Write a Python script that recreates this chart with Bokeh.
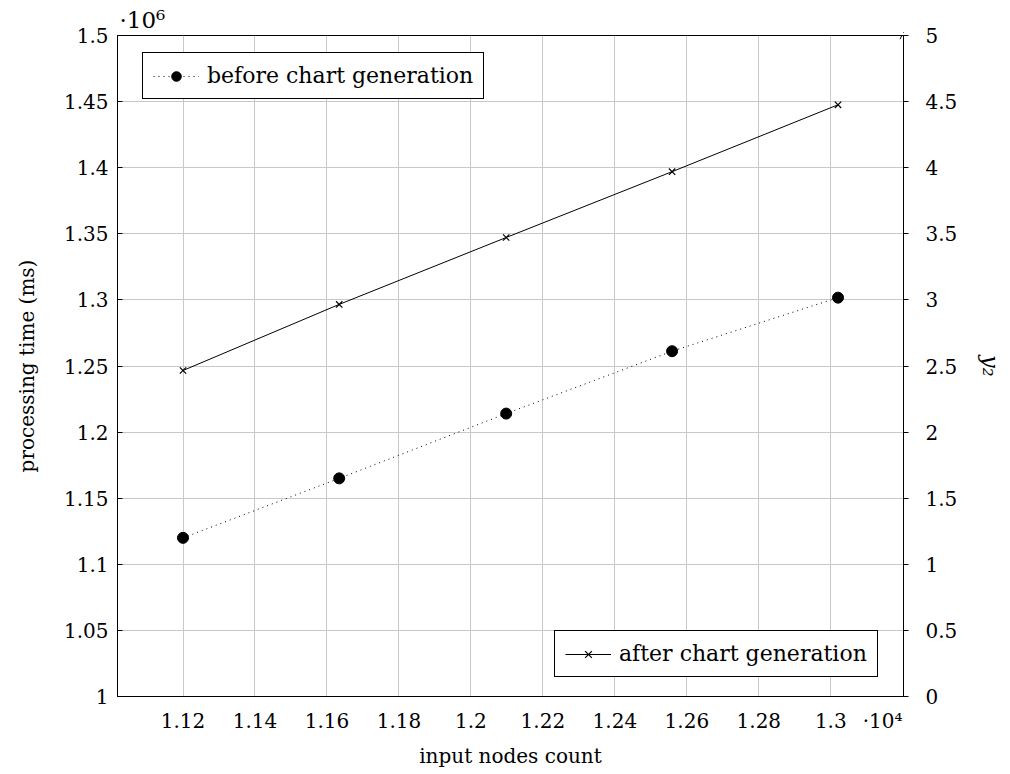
import math
from bokeh.plotting import figure
from bokeh.models import (Range1d, LinearAxis, FixedTicker, Legend, LegendItem,
                          Title, Arrow, OpenHead)
from bokeh.embed import file_html
from bokeh.resources import INLINE

# ---- data (x in units of 1e4, y in units of 1e6) ----
x_vals = [1.1200, 1.1634, 1.2098, 1.2559, 1.3020]
before_vals = [1.1200, 1.1650, 1.2140, 1.2612, 1.3017]
after_vals = [2.466, 2.966, 3.472, 3.970, 4.476]

x_ticks = [1.12, 1.14, 1.16, 1.18, 1.2, 1.22, 1.24, 1.26, 1.28, 1.3]
x_labels = ["1.12", "1.14", "1.16", "1.18", "1.2", "1.22", "1.24", "1.26", "1.28", "1.3"]
left_ticks = [1.0, 1.05, 1.1, 1.15, 1.2, 1.25, 1.3, 1.35, 1.4, 1.45, 1.5]
left_labels = ["1", "1.05", "1.1", "1.15", "1.2", "1.25", "1.3", "1.35", "1.4", "1.45", "1.5"]
right_ticks = [0, 0.5, 1, 1.5, 2, 2.5, 3, 3.5, 4, 4.5, 5]
right_labels = ["0", "0.5", "1", "1.5", "2", "2.5", "3", "3.5", "4", "4.5", "5"]
x_scale_text = "·10⁴"
y_scale_text = "·10⁶"

FONT = "DejaVu Serif"
TICK_SIZE = "20px"
LABEL_SIZE = "20px"

x0, x1 = 1.1018, 1.3202
FW, FH = 786, 661
X_SCALE_POS = 1.3144  # where the x scale note sits (right of the last tick)

p = figure(frame_width=FW, frame_height=FH, output_backend="svg", toolbar_location=None,
           x_range=Range1d(x0, x1), y_range=Range1d(1.0, 1.5),
           min_border_left=117, min_border_right=95, min_border_top=35,
           min_border_bottom=10)
p.extra_y_ranges = {"right": Range1d(0, 5)}

p.outline_line_color = "black"
p.outline_line_width = 1
p.outline_line_alpha = 1
p.background_fill_color = "white"
p.border_fill_color = "white"

# axes
xa = p.xaxis[0]
xa.ticker = FixedTicker(ticks=x_ticks + [X_SCALE_POS])
overrides = {t: l for t, l in zip(x_ticks, x_labels)}
overrides[X_SCALE_POS] = x_scale_text
xa.major_label_overrides = overrides
xa.axis_label = "input nodes count"

ya = p.yaxis[0]
ya.ticker = FixedTicker(ticks=left_ticks)
ya.major_label_overrides = {t: l for t, l in zip(left_ticks, left_labels)}
ya.axis_label = "processing time (ms)"

ra = LinearAxis(y_range_name="right", ticker=FixedTicker(ticks=right_ticks),
                axis_label="y₂")
ra.major_label_overrides = {t: l for t, l in zip(right_ticks, right_labels)}
p.add_layout(ra, "right")

for ax in (xa, ya, ra):
    ax.axis_line_color = "black"
    ax.major_tick_line_color = "black"
    ax.minor_tick_line_color = None
    ax.major_label_text_font = FONT
    ax.major_label_text_font_size = TICK_SIZE
    ax.major_label_text_color = "black"
    ax.axis_label_text_font = FONT
    ax.axis_label_text_font_size = LABEL_SIZE
    ax.axis_label_text_font_style = "normal"
    ax.axis_label_text_color = "black"

xa.major_tick_in = 0
xa.major_tick_out = 0
xa.major_label_standoff = 12
xa.axis_label_standoff = 8
ya.major_tick_in = 5
ya.major_tick_out = 0
ya.major_label_standoff = 9
ya.axis_label_standoff = 22
ra.major_tick_in = 0
ra.major_tick_out = 5
ra.major_label_standoff = 17
ra.axis_label_standoff = 18
ra.axis_label_text_font_style = "italic"
ra.axis_label_text_font_size = "22px"

# grid
p.xgrid.ticker = FixedTicker(ticks=x_ticks)
p.ygrid.ticker = FixedTicker(ticks=left_ticks)
for g in (p.xgrid[0], p.ygrid[0]):
    g.grid_line_color = "#c8c8c8"
    g.grid_line_width = 1

# series
l1 = p.line(x_vals, before_vals, line_color="black", line_width=1, line_dash="1 4")
s1 = p.scatter(x_vals, before_vals, marker="circle", size=11, fill_color="black",
               line_color="black")
l2 = p.line(x_vals, after_vals, line_color="black", line_width=1, y_range_name="right")
s2 = p.scatter(x_vals, after_vals, marker="x", size=9, line_color="black", line_width=1.2,
               y_range_name="right")

# legends (positions in px from frame bottom-left)
leg1 = Legend(items=[LegendItem(label="before chart generation", renderers=[l1, s1])],
              location=(25, FH - 20 - 44))
leg2 = Legend(items=[LegendItem(label="after chart generation", renderers=[l2, s2])],
              location=(437, 19))
for lg in (leg1, leg2):
    lg.margin = 0
    lg.padding = 10
    lg.spacing = 0
    lg.glyph_width = 46
    lg.glyph_height = 24
    lg.label_height = 24
    lg.label_standoff = 8
    lg.label_text_font = FONT
    lg.label_text_font_size = "22px"
    lg.label_text_color = "black"
    lg.border_line_color = "black"
    lg.border_line_width = 1
    lg.border_line_alpha = 1
    lg.background_fill_color = "white"
    lg.background_fill_alpha = 1
    p.add_layout(lg, "center")

# arrow at top of right axis
p.add_layout(Arrow(x_start=x1, x_end=x1, y_start=4.9, y_end=5.025, y_range_name="right",
                   line_color="black", line_width=1,
                   end=OpenHead(size=7, line_color="black", line_width=1)))

# y scale note above the frame
t_top = Title(text=y_scale_text, align="left", offset=2, standoff=5, text_font=FONT,
              text_font_size="23px", text_font_style="normal", text_color="black")
p.add_layout(t_top, "above")

open("out.html", "w").write(file_html(p, INLINE))
